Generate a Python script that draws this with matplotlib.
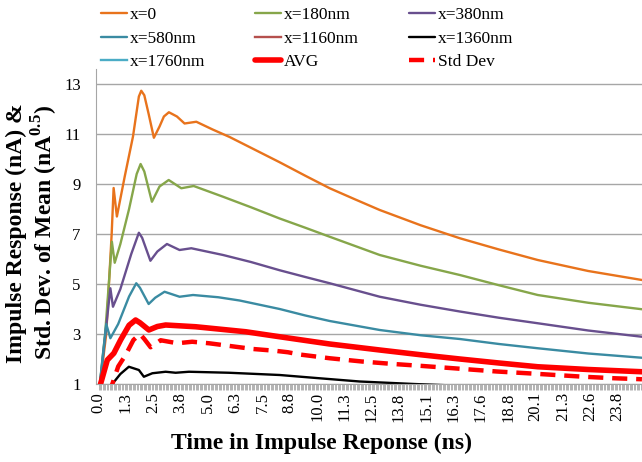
import matplotlib
matplotlib.use("Agg")
import matplotlib.pyplot as plt
import numpy as np

plt.rcParams['font.family'] = ['Liberation Serif', 'DejaVu Serif']
plt.rcParams['mathtext.fontset'] = 'custom'
plt.rcParams['mathtext.rm'] = 'Liberation Serif'
plt.rcParams['mathtext.bf'] = 'Liberation Serif:bold'

# ---- data (time in ns, response values) ----
t_x0 = [0.0, 0.35, 0.6, 0.69, 0.84, 1.2, 1.58, 1.85, 1.96, 2.1, 2.3, 2.54, 2.8, 3.0, 3.23, 3.6, 3.95, 4.49, 5.24, 6.02, 7.0, 8.32, 9.5, 10.62, 11.8, 12.92, 14.8, 16.6, 18.4, 20.18, 22.5, 24.97]
v_x0 = [0.5, 3.0, 7.0, 8.84, 7.7, 9.3, 10.9, 12.5, 12.73, 12.55, 11.8, 10.85, 11.3, 11.7, 11.87, 11.7, 11.42, 11.49, 11.18, 10.88, 10.45, 9.87, 9.33, 8.83, 8.38, 7.96, 7.35, 6.83, 6.38, 5.96, 5.52, 5.16]

t_x180 = [0.0, 0.3, 0.61, 0.74, 1.0, 1.4, 1.75, 1.93, 2.1, 2.45, 2.8, 3.22, 3.8, 4.37, 5.72, 7.0, 8.32, 9.5, 10.62, 12.92, 14.8, 16.6, 18.4, 20.18, 22.5, 24.97]
v_x180 = [0.5, 3.0, 6.69, 5.85, 6.6, 8.0, 9.4, 9.8, 9.5, 8.29, 8.9, 9.16, 8.83, 8.92, 8.49, 8.07, 7.62, 7.25, 6.89, 6.16, 5.73, 5.36, 4.95, 4.56, 4.25, 3.99]

t_x380 = [0.0, 0.25, 0.54, 0.66, 1.0, 1.5, 1.85, 2.0, 2.38, 2.7, 3.14, 3.72, 4.26, 5.72, 7.0, 8.32, 9.5, 10.62, 12.92, 14.8, 16.6, 18.4, 20.18, 22.5, 24.97]
v_x380 = [0.5, 2.5, 4.83, 4.09, 4.8, 6.2, 7.05, 6.85, 5.93, 6.3, 6.6, 6.36, 6.43, 6.16, 5.88, 5.55, 5.28, 5.03, 4.49, 4.17, 3.9, 3.65, 3.43, 3.14, 2.89]

t_x580 = [0.0, 0.2, 0.35, 0.54, 0.9, 1.4, 1.73, 1.9, 2.3, 2.6, 3.03, 3.72, 4.34, 5.5, 6.48, 8.32, 9.5, 10.62, 12.92, 14.8, 16.6, 18.4, 20.18, 22.5, 24.97]
v_x580 = [0.5, 2.2, 3.4, 2.83, 3.4, 4.5, 5.03, 4.85, 4.2, 4.45, 4.69, 4.49, 4.56, 4.47, 4.34, 4.0, 3.74, 3.52, 3.16, 2.95, 2.8, 2.6, 2.43, 2.22, 2.05]

t_x1360 = [0.3, 0.63, 1.0, 1.39, 1.85, 2.08, 2.47, 3.08, 3.54, 4.15, 5.99, 8.32, 10.0, 12.0, 14.5, 16.0]
v_x1360 = [0.5, 1.0, 1.4, 1.69, 1.56, 1.29, 1.43, 1.49, 1.45, 1.49, 1.45, 1.36, 1.24, 1.1, 1.0, 0.95]

t_avg = [0.0, 0.09, 0.4, 0.7, 1.01, 1.4, 1.7, 1.9, 2.31, 2.7, 3.08, 4.46, 6.76, 8.32, 10.62, 12.92, 14.8, 16.6, 18.4, 20.18, 22.5, 24.97]
v_avg = [0.6, 1.0, 1.96, 2.23, 2.76, 3.35, 3.56, 3.45, 3.16, 3.3, 3.36, 3.29, 3.09, 2.89, 2.6, 2.36, 2.17, 2.0, 1.84, 1.69, 1.58, 1.49]

t_std = [0.4, 0.63, 0.9, 1.24, 1.6, 1.9, 2.1, 2.39, 2.85, 3.62, 4.3, 5.07, 5.69, 6.3, 7.1, 8.1, 8.7, 9.24, 10.62, 12.1, 13.4, 14.9, 16.3, 18.3, 19.7, 21.0, 22.3, 23.7, 24.97]
v_std = [0.6, 1.0, 1.7, 2.16, 2.76, 3.0, 2.8, 2.47, 2.75, 2.63, 2.69, 2.63, 2.56, 2.49, 2.4, 2.33, 2.27, 2.18, 2.03, 1.9, 1.81, 1.72, 1.63, 1.5, 1.43, 1.36, 1.29, 1.23, 1.19]

labels = ["x=0", "x=180nm", "x=380nm", "x=580nm", "x=1160nm", "x=1360nm", "x=1760nm", "AVG", "Std Dev"]
xtick_labels = ["0.0", "1.3", "2.5", "3.8", "5.0", "6.3", "7.5", "8.8", "10.0", "11.3", "12.5",
                "13.8", "15.1", "16.3", "17.6", "18.8", "20.1", "21.3", "22.6", "23.8"]
sample_dt = 0.062745  # ns per sample; labels every 20 samples
yticks = [1, 3, 5, 7, 9, 11, 13]

colors = {
    "x=0": "#E8731C",
    "x=180nm": "#86A64A",
    "x=380nm": "#684F8E",
    "x=580nm": "#3A8BA2",
    "x=1160nm": "#B5504D",
    "x=1360nm": "#000000",
    "x=1760nm": "#4BACC6",
}

fig = plt.figure(figsize=(6.42, 4.62), dpi=100)
ax = fig.add_axes([96/642, 1-384/462, (642-96)/642, (384-69)/462])

lw = 1.7
kw = dict(solid_joinstyle='round', solid_capstyle='round')
h = {}
h["x=0"], = ax.plot(t_x0, v_x0, color=colors["x=0"], lw=lw, **kw)
h["x=180nm"], = ax.plot(t_x180, v_x180, color=colors["x=180nm"], lw=lw, **kw)
h["x=380nm"], = ax.plot(t_x380, v_x380, color=colors["x=380nm"], lw=lw, **kw)
h["x=580nm"], = ax.plot(t_x580, v_x580, color=colors["x=580nm"], lw=lw, **kw)
h["x=1160nm"], = ax.plot([], [], color=colors["x=1160nm"], lw=lw)
h["x=1360nm"], = ax.plot(t_x1360, v_x1360, color=colors["x=1360nm"], lw=lw, **kw)
h["x=1760nm"], = ax.plot([], [], color=colors["x=1760nm"], lw=lw)
h["AVG"], = ax.plot(t_avg, v_avg, color="#FF0000", lw=4.0, **kw)
h["Std Dev"], = ax.plot(t_std, v_std, color="#FF0000", lw=3.2, linestyle=(0, (3.4, 2.0)),
                        dash_joinstyle='round')

ax.set_ylim(1, 13.6)
ax.set_xlim(-0.12, 24.97)
ax.set_yticks(yticks)
ax.set_yticklabels([str(v) for v in yticks], fontsize=12)
major = [i * 20 * sample_dt for i in range(len(xtick_labels))]
ax.set_xticks(major)
ax.set_xticklabels(xtick_labels, rotation=90, fontsize=12)
ax.set_xticks(np.arange(0, 25.0, sample_dt), minor=True)
ax.tick_params(axis='x', which='both', length=4, color='#A6A6A6', width=0.6, pad=2)
ax.tick_params(axis='y', length=0, pad=11)

ax.grid(axis='y', color='#A6A6A6', lw=1.0)
ax.set_axisbelow(True)
for s in ['top', 'right']:
    ax.spines[s].set_visible(False)
ax.spines['left'].set_color('#A6A6A6')
ax.spines['bottom'].set_color('#A6A6A6')

fig.text(322/642, 1-443/462, "Time in Impulse Reponse (ns)", ha='center', va='center',
         fontsize=17, fontweight='bold')
fig.text(33/642, 1-233/462, "Impulse Response (nA) &\nStd. Dev. of Mean (nA$^{\\mathbf{0.5}}$)",
         ha='center', va='center', rotation=90, fontsize=17, fontweight='bold',
         multialignment='center', linespacing=1.15)

order = [0, 3, 6, 1, 4, 7, 2, 5, 8]
hl = [h[labels[i]] for i in order]
ll = [labels[i] for i in order]
fig.legend(hl, ll, loc='upper left', bbox_to_anchor=(101/642, 1-7/462), ncol=3,
           frameon=False, fontsize=12.5, handlelength=1.5, handletextpad=0.15,
           columnspacing=2.9, labelspacing=0.42, borderaxespad=0, borderpad=0)

fig.savefig("out.png", dpi=100)
